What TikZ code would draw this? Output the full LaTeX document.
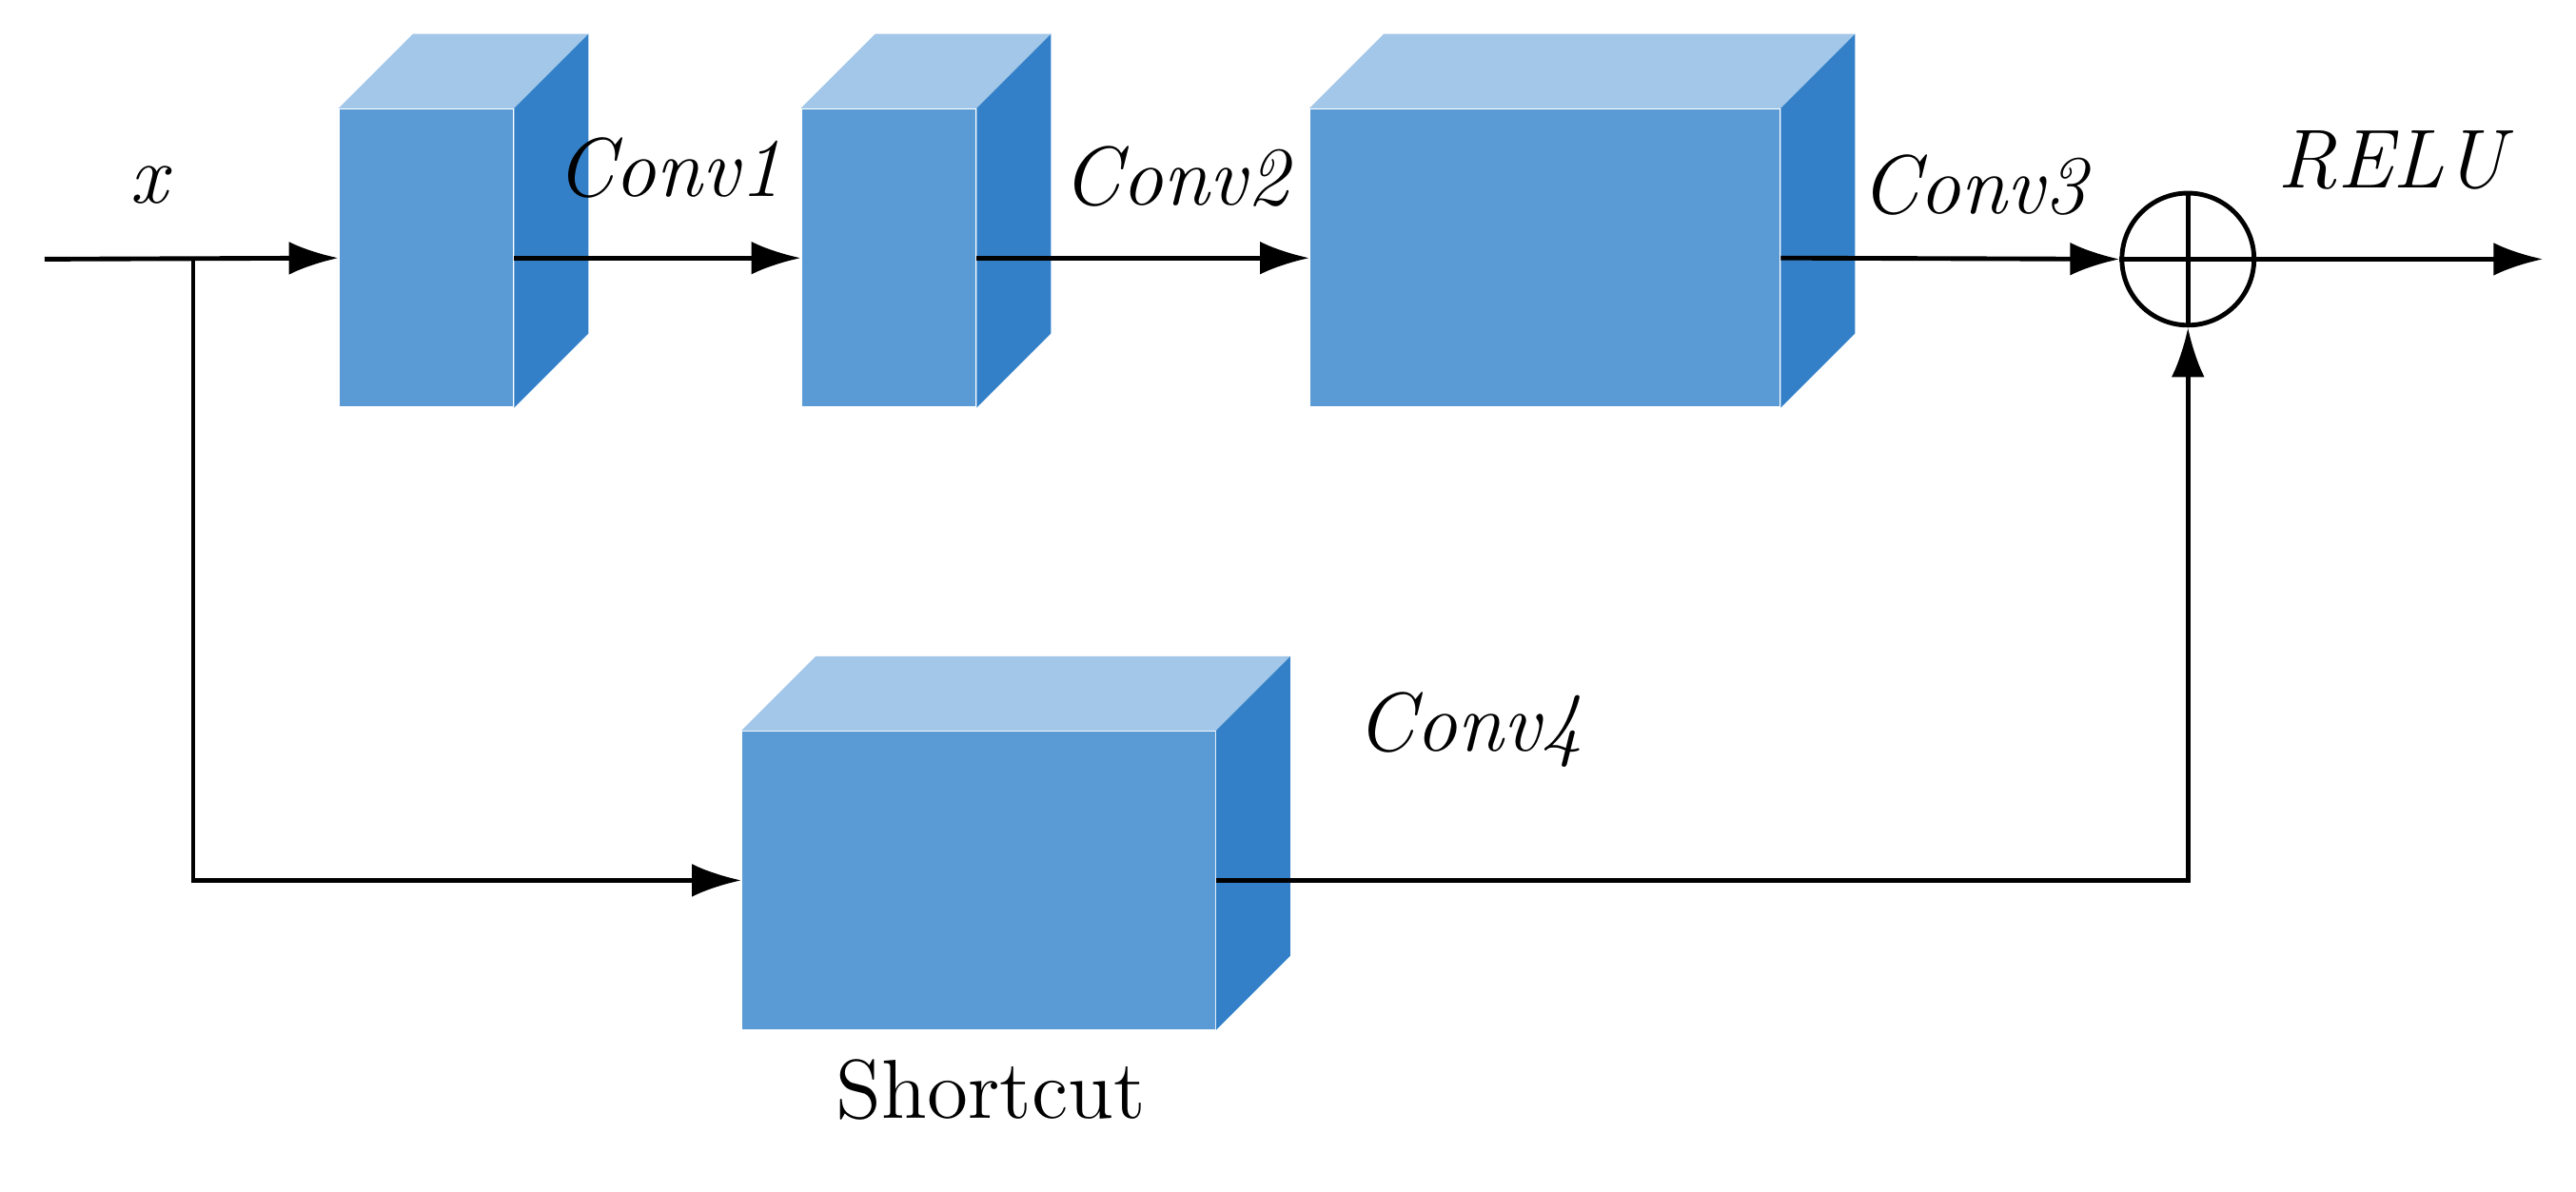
\documentclass[tikz,border=0pt]{standalone}
\usepackage{tikz}
\usetikzlibrary{arrows.meta}
\definecolor{frontblue}{HTML}{5B9BD5}
\definecolor{topblue}{HTML}{A2C7E8}
\definecolor{sideblue}{HTML}{3380C8}
\newcommand{\blockdepth}[1]{%
  \fill[topblue] (#1.north west) -- ++(0.45,0.45) -- ([shift={(0.45,0.45)}]#1.north east) -- (#1.north east) -- cycle;
  \fill[sideblue] (#1.north east) -- ++(0.45,0.45) -- ([shift={(0.45,0.45)}]#1.south east) -- (#1.south east) -- cycle;}
\begin{document}
\begin{tikzpicture}[font=\Large]
	\useasboundingbox (0,0) rectangle (15.6,7.22);
	% Define styles
	\tikzset{block/.style={rectangle, fill=frontblue, inner sep=0pt, anchor=south west},
		arr/.style={-{Latex[length=3mm,width=2mm]}, thick},
		lbl/.style={font=\Large\itshape}}

	\node[block, minimum width=1.05cm, minimum height=1.8cm] (c1) at (2.05,4.75) {};
	\node[block, minimum width=1.05cm, minimum height=1.8cm] (c2) at (4.85,4.75) {};
	\node[block, minimum width=2.84cm, minimum height=1.8cm] (c3) at (7.93,4.75) {};
	\node[block, minimum width=2.86cm, minimum height=1.8cm] (c4) at (4.49,0.98) {};
	\blockdepth{c1}
	\blockdepth{c2}
	\blockdepth{c3}
	\blockdepth{c4}

	\node[circle, draw, thick, minimum size=0.8cm] (sum) at (13.25,5.65) {};
	\draw[thick] (sum.north) -- (sum.south) (sum.west) -- (sum.east);

	\coordinate (in) at (0.27,5.65);
	\coordinate (split) at (1.17,5.65);
	\coordinate (out) at (15.4,5.65);

	\draw[arr] (in) -- (c1.west);
	\draw[arr] (c1.east) -- (c2.west);
	\draw[arr] (c2.east) -- (c3.west);
	\draw[arr] (c3.east) -- (sum.west);
	\draw[arr] (sum.east) -- (out);
	\draw[arr] (split) |- (c4.west);
	\draw[arr] (c4.east) -| (sum.south);

	% labels
	\node[lbl] (lx) at (0.9,6.1) {x};
	\node[lbl] (l1) at (4.05,6.2) {Conv1};
	\node[lbl] (l2) at (7.12,6.15) {Conv2};
	\node[lbl] (l3) at (11.95,6.1) {Conv3};
	\node[lbl] (lr) at (14.48,6.25) {RELU};
	\node[lbl] (l4) at (8.9,2.8) {Conv4};
	\node (ls) at (6.0,0.62) {Shortcut};
\end{tikzpicture}
\end{document}
